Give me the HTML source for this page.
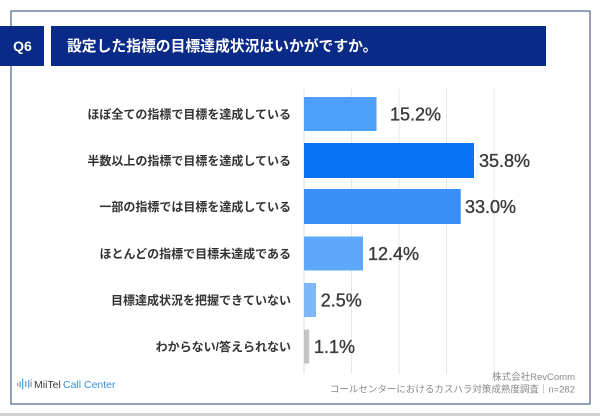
<!DOCTYPE html>
<html>
<head>
<meta charset="utf-8">
<style>
html,body{margin:0;padding:0;background:#fff;}
body{width:600px;height:416px;overflow:hidden;}
svg{display:block;}
.lbl{font-family:"Liberation Sans","Noto Sans CJK JP",sans-serif;font-size:12px;font-weight:bold;fill:#333;}
.val{font-family:"Liberation Sans","Noto Sans CJK JP",sans-serif;font-size:18px;fill:#3a3a3a;stroke:#3a3a3a;stroke-width:0.35;}
.ft{font-family:"Liberation Sans","Noto Sans CJK JP",sans-serif;font-size:9.5px;fill:#8a8a8a;}
</style>
</head>
<body>
<svg width="600" height="416" viewBox="0 0 600 416" xmlns="http://www.w3.org/2000/svg">
  <rect x="0" y="0" width="600" height="416" fill="#fff"/>
  <rect x="0" y="413" width="600" height="3" fill="#d2d2d2"/>
  <rect x="11" y="11" width="579" height="393" fill="#fff" stroke="#5a7090" stroke-width="1.3"/>
  <rect x="0" y="26" width="44" height="40" fill="#0a2a88"/>
  <text x="22.5" y="51" text-anchor="middle" font-family="Liberation Sans, sans-serif" font-size="14" font-weight="bold" fill="#fff">Q6</text>
  <rect x="51" y="26" width="495" height="40" fill="#0a2a88"/>
  <text x="67" y="51" font-family="Liberation Sans, 'Noto Sans CJK JP', sans-serif" font-size="14.8" font-weight="bold" fill="#fff">設定した指標の目標達成状況はいかがですか。</text>

  <g stroke="#e8e8e8" stroke-width="1">
    <line x1="351.5" y1="89" x2="351.5" y2="374"/>
    <line x1="399" y1="89" x2="399" y2="374"/>
    <line x1="446.5" y1="89" x2="446.5" y2="374"/>
    <line x1="494" y1="89" x2="494" y2="374"/>
  </g>
  <line x1="304" y1="89" x2="304" y2="374" stroke="#dcdcdc" stroke-width="1"/>

  <rect x="304" y="97" width="72.5" height="34" fill="#4d9ffa"/>
  <rect x="304" y="143" width="170" height="35" fill="#0a74f5"/>
  <rect x="304" y="189" width="156.7" height="35" fill="#3a8ff7"/>
  <rect x="304" y="236.5" width="59" height="34" fill="#5da8fa"/>
  <rect x="304" y="283" width="12" height="34" fill="#7db8fa"/>
  <rect x="304" y="329.5" width="5.2" height="34" fill="#c4c4c4"/>

  <text class="lbl" x="291" y="118.5" text-anchor="end">ほぼ全ての指標で目標を達成している</text>
  <text class="lbl" x="291" y="165" text-anchor="end">半数以上の指標で目標を達成している</text>
  <text class="lbl" x="291" y="211" text-anchor="end">一部の指標では目標を達成している</text>
  <text class="lbl" x="291" y="257.8" text-anchor="end">ほとんどの指標で目標未達成である</text>
  <text class="lbl" x="291" y="304.5" text-anchor="end">目標達成状況を把握できていない</text>
  <text class="lbl" x="291" y="350.8" text-anchor="end">わからない/答えられない</text>

  <text class="val" x="390" y="120.5">15.2%</text>
  <text class="val" x="479" y="167">35.8%</text>
  <text class="val" x="465" y="213">33.0%</text>
  <text class="val" x="368" y="259.8">12.4%</text>
  <text class="val" x="320.7" y="306.5">2.5%</text>
  <text class="val" x="314" y="352.8">1.1%</text>

  <g fill="#5aa6e0">
    <rect x="17" y="383" width="1.3" height="3"/>
    <rect x="19.5" y="381.5" width="1.3" height="6"/>
    <rect x="22" y="378.5" width="1.3" height="11"/>
    <rect x="25" y="381" width="1.3" height="6"/>
    <rect x="28" y="380" width="1.3" height="8"/>
    <rect x="30.5" y="379" width="1.2" height="1.3"/>
    <rect x="30.5" y="381.5" width="1.2" height="5.5"/>
  </g>
  <text x="34" y="388" font-family="Liberation Sans, sans-serif" font-size="10.5" fill="#3a3a3a">MiiTel</text>
  <text x="63" y="388" font-family="Liberation Sans, sans-serif" font-size="10.5" fill="#3a8fd8">Call Center</text>

  <text class="ft" x="575" y="380" text-anchor="end">株式会社RevComm</text>
  <text class="ft" x="575" y="392.5" text-anchor="end">コールセンターにおけるカスハラ対策成熟度調査｜n=282</text>
</svg>
</body>
</html>
